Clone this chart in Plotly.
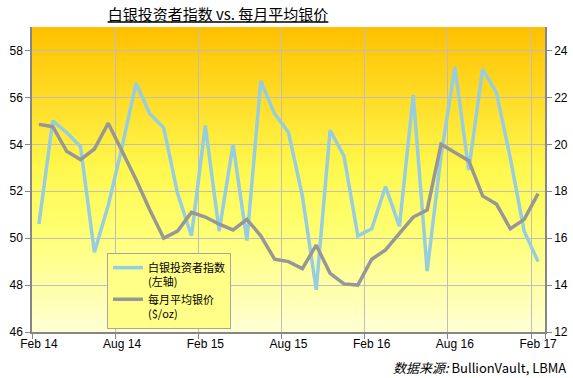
import plotly.graph_objects as go

months = ["Feb 14", "Mar 14", "Apr 14", "May 14", "Jun 14", "Jul 14", "Aug 14", "Sep 14",
          "Oct 14", "Nov 14", "Dec 14", "Jan 15", "Feb 15", "Mar 15", "Apr 15", "May 15",
          "Jun 15", "Jul 15", "Aug 15", "Sep 15", "Oct 15", "Nov 15", "Dec 15", "Jan 16",
          "Feb 16", "Mar 16", "Apr 16", "May 16", "Jun 16", "Jul 16", "Aug 16", "Sep 16",
          "Oct 16", "Nov 16", "Dec 16", "Jan 17", "Feb 17"]

investor_index = [50.6, 55.0, 54.5, 53.9, 49.4, 51.4, 53.9, 56.6, 55.3, 54.7, 51.9, 50.1,
                  54.8, 50.3, 54.0, 49.9, 56.7, 55.3, 54.5, 51.8, 47.8, 54.6, 53.5, 50.1,
                  50.4, 52.2, 50.5, 56.1, 48.6, 53.5, 57.3, 52.9, 57.2, 56.2, 53.4, 50.3, 49.0]

silver_price = [20.85, 20.75, 19.7, 19.35, 19.8, 20.9, 19.7, 18.5, 17.2, 16.0, 16.3, 17.1,
                16.9, 16.6, 16.35, 16.8, 16.1, 15.1, 15.0, 14.7, 15.7, 14.5, 14.05, 14.0,
                15.1, 15.5, 16.2, 16.9, 17.2, 20.0, 19.65, 19.3, 17.8, 17.45, 16.4, 16.8, 17.9]

x_tick_labels = ["Feb 14", "Aug 14", "Feb 15", "Aug 15", "Feb 16", "Aug 16", "Feb 17"]

title_text = "<u>白银投资者指数 vs. 每月平均银价</u>"
source_text = "<i>数据来源:</i> BullionVault, LBMA"
series_names = ["白银投资者指数<br>(左轴)", "每月平均银价<br>($/oz)"]

FONT = "Liberation Sans, Arial, Noto Sans CJK SC, sans-serif"
CJK = "Noto Sans CJK SC, Liberation Sans, sans-serif"

fig = go.Figure()
fig.add_trace(go.Scatter(x=months, y=investor_index, name=series_names[0], mode="lines",
                         line=dict(color="#96CDE0", width=3.5), yaxis="y"))
fig.add_trace(go.Scatter(x=months, y=silver_price, name=series_names[1], mode="lines",
                         line=dict(color="#979797", width=3.5), yaxis="y2"))

# background gradient (orange at top -> pale yellow at bottom)
stops = [(0.0, (255, 255, 212)), (0.35, (255, 255, 110)), (0.55, (255, 247, 75)),
         (1.0, (255, 192, 0))]

def grad(t):
    for (a, ca), (b, cb) in zip(stops[:-1], stops[1:]):
        if a <= t <= b:
            f = (t - a) / (b - a)
            return "rgb(%d,%d,%d)" % tuple(round(ca[k] + (cb[k] - ca[k]) * f) for k in range(3))
    return "rgb(%d,%d,%d)" % stops[-1][1]

n = 120
shapes = []
for k in range(n):
    y0 = k / n
    y1 = min(1.0, (k + 1.6) / n)
    shapes.append(dict(type="rect", xref="x domain", yref="y domain", x0=0, x1=1, y0=y0, y1=y1,
                       fillcolor=grad((k + 0.5) / n), line=dict(width=0), layer="below"))

fig.update_layout(
    width=573, height=378,
    margin=dict(l=32, r=28, t=27, b=46, autoexpand=False),
    paper_bgcolor="white", plot_bgcolor="white",
    font=dict(family=FONT, size=12, color="#000000"),
    shapes=shapes,
    title=dict(text=title_text, x=218 / 573, xanchor="center", y=1 - 15 / 378, yanchor="middle",
               font=dict(family=CJK, size=15, color="#000000"), automargin=False),
    xaxis=dict(type="category", categoryorder="array", categoryarray=months,
               tickmode="array", tickvals=x_tick_labels, ticktext=x_tick_labels,
               tickson="boundaries", range=[-0.5, 36.5], tickangle=0, automargin=False,
               showgrid=True, gridcolor="#BEBEBE", gridwidth=1,
               showline=True, linecolor="#868686", linewidth=1.5,
               ticks="outside", ticklen=5, tickcolor="#868686",
               tickfont=dict(size=12), zeroline=False),
    yaxis=dict(range=[46, 59], tick0=46, dtick=2, showgrid=True, gridcolor="#BEBEBE",
               showline=True, linecolor="#868686", linewidth=1.5, automargin=False,
               ticks="outside", ticklen=5, tickcolor="#868686", zeroline=False,
               tickfont=dict(size=12)),
    yaxis2=dict(range=[12, 25], tick0=12, dtick=2, overlaying="y", side="right",
                showgrid=False, showline=True, linecolor="#868686", linewidth=1.5,
                ticks="outside", ticklen=5, tickcolor="#868686", zeroline=False,
                automargin=False, tickfont=dict(size=12)),
    legend=dict(x=(107 - 32) / 513, y=(332.3 - 253.3) / 305, xanchor="left", yanchor="top",
                bgcolor="#FFFF88", bordercolor="#A6A6A6", borderwidth=1,
                font=dict(family=CJK, size=11, color="#000000"), valign="top",
                itemwidth=30, tracegroupgap=5),
    annotations=[dict(text=source_text, xref="paper", yref="paper",
                      x=(568 - 32) / 513, y=-(368 - 332.3) / 305, xanchor="right", yanchor="middle",
                      showarrow=False, font=dict(family=CJK, size=13, color="#000000"))],
    showlegend=True,
)

fig.write_html("out.html", config={"displayModeBar": False},
               post_script="document.body.style.margin='0';document.body.style.padding='0';")
